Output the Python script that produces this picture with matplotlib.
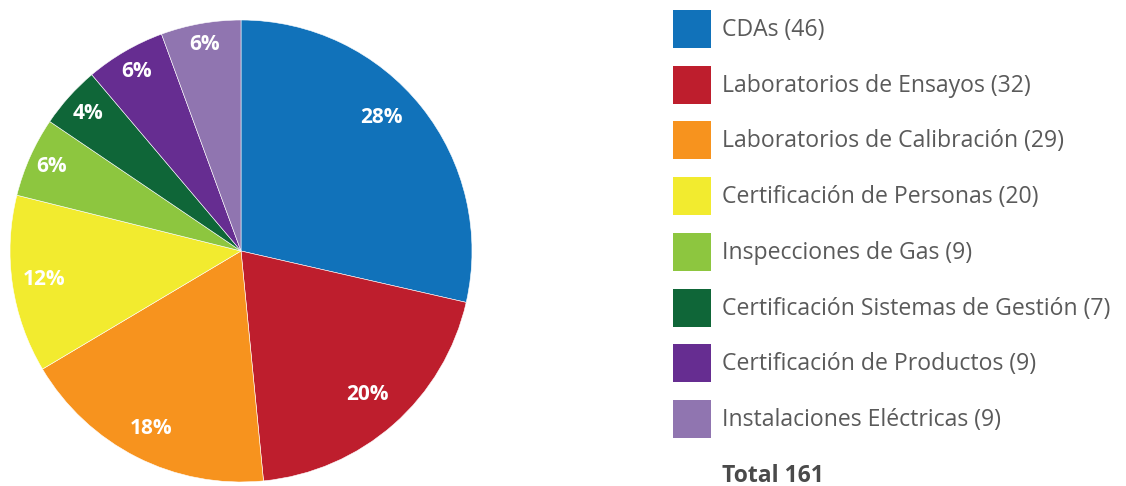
import matplotlib
matplotlib.use("Agg")
import matplotlib.pyplot as plt
from matplotlib.patches import Rectangle
import numpy as np

categories = ["CDAs", "Laboratorios de Ensayos", "Laboratorios de Calibración",
              "Certificación de Personas", "Inspecciones de Gas",
              "Certificación Sistemas de Gestión", "Certificación de Productos",
              "Instalaciones Eléctricas"]
counts = [46, 32, 29, 20, 9, 7, 9, 9]
pct_labels = ["28%", "20%", "18%", "12%", "6%", "4%", "6%", "6%"]
total_label = "Total 161"
colors = ["#1172BA", "#BE1E2D", "#F7931E", "#F2EB2F", "#8DC63F", "#0F6638", "#662D91", "#9075B0"]
label_dist = [0.84, 0.83, 0.86, 0.86, 0.90, 0.89, 0.90, 0.91]
label_shift = [5, 0, 0, 0, 0, 0, 0, 0]  # degrees

W, H = 1126, 486
fig = plt.figure(figsize=(W / 100, H / 100), dpi=100)
cx, cy, r = 241, 251, 231
ax = fig.add_axes([(cx - r) / W, (H - cy - r) / H, 2 * r / W, 2 * r / H])
wedges, _ = ax.pie(counts, colors=colors, startangle=90, counterclock=False,
                   radius=1, wedgeprops=dict(edgecolor="white", linewidth=0.4))
ax.set_xlim(-1, 1)
ax.set_ylim(-1, 1)
ax.set_aspect("equal")
ax.axis("off")

font = "Open Sans"
for w, lab, d, s in zip(wedges, pct_labels, label_dist, label_shift):
    ang = np.deg2rad((w.theta1 + w.theta2) / 2 + s)
    ax.text(d * np.cos(ang), d * np.sin(ang), lab, color="white", fontsize=15,
            fontweight="bold", ha="center", va="center", family=font)

# legend
sq = 38
tops = [10 + i * 55.7 for i in range(len(categories))]
for top, col, cat, n in zip(tops, colors, categories, counts):
    fig.patches.append(Rectangle((673 / W, (H - top - sq) / H), sq / W, sq / H,
                                 transform=fig.transFigure, facecolor=col, edgecolor="none"))
    fig.text(722 / W, (H - top - sq / 2 - 1) / H, f"{cat} ({n})", color="#5a5a5a",
             fontsize=16.6, ha="left", va="center", family=font)
fig.text(722 / W, (H - 476) / H, total_label, color="#4a4a4a", fontsize=16.5,
         fontweight="bold", ha="left", va="center", family=font)

fig.savefig("out.png", dpi=100, facecolor="white")
